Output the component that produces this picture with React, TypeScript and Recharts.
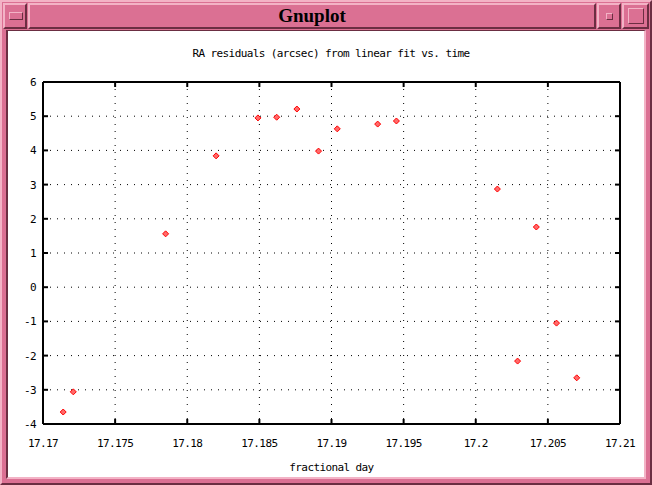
import React from 'react'
import { ScatterChart, Scatter, XAxis, YAxis, CartesianGrid } from 'recharts'

// RA residuals (arcsec)
const days = [
  17.1714, 17.1721, 17.1785, 17.182, 17.1849, 17.1862, 17.1876, 17.1891,
  17.1904, 17.1932, 17.1945, 17.2015, 17.2029, 17.2042, 17.2056, 17.207,
]
const residuals = [
  -3.65, -3.06, 1.56, 3.84, 4.95, 4.97, 5.21, 3.98,
  4.63, 4.77, 4.86, 2.87, -2.16, 1.76, -1.05, -2.65,
]
const xTickLabels = ['17.17', '17.175', '17.18', '17.185', '17.19', '17.195', '17.2', '17.205', '17.21']
const yTicks = [-4, -3, -2, -1, 0, 1, 2, 3, 4, 5, 6]

const xTicks = xTickLabels.map((s) => parseFloat(s))
const points = days.map((d, i) => ({ day: d, res: residuals[i] }))

const font = { fontFamily: '"DejaVu Sans Mono", monospace', fontSize: 11, letterSpacing: -0.6 }

const fmtX = (v: number) => xTickLabels[xTicks.findIndex((t) => Math.abs(t - v) < 1e-9)] ?? String(v)

const BottomTick = (p: any) => (
  <g>
    <line x1={p.x} x2={p.x} y1={p.y} y2={p.y - 5} stroke="#000" strokeWidth={2} />
    <text x={p.x} y={p.y + 23} textAnchor="middle" fill="#000" style={font}>
      {fmtX(p.payload.value)}
    </text>
  </g>
)
const TopTick = (p: any) => (
  <line x1={p.x} x2={p.x} y1={p.y} y2={p.y + 5} stroke="#000" strokeWidth={2} />
)
const LeftTick = (p: any) => (
  <g>
    <line x1={p.x} x2={p.x + 5} y1={p.y} y2={p.y} stroke="#000" strokeWidth={2} />
    <text x={p.x - 7} y={p.y + 4} textAnchor="end" fill="#000" style={font}>
      {p.payload.value}
    </text>
  </g>
)
const RightTick = (p: any) => (
  <line x1={p.x} x2={p.x - 5} y1={p.y} y2={p.y} stroke="#000" strokeWidth={2} />
)

const Diamond = (p: any) => (
  <polygon
    points={`${p.cx},${p.cy - 3} ${p.cx + 3},${p.cy} ${p.cx},${p.cy + 3} ${p.cx - 3},${p.cy}`}
    fill="#ff6a6a"
    stroke="#ff0000"
    strokeWidth={1}
  />
)
const NoShape = () => <g />

const pink = '#db7093'
const light = '#f3b3c6'
const dark = '#6b2e42'

const bevel = (extra: React.CSSProperties): React.CSSProperties => ({
  position: 'absolute',
  background: pink,
  boxSizing: 'border-box',
  borderTop: `2px solid ${light}`,
  borderLeft: `2px solid ${light}`,
  borderBottom: `2px solid ${dark}`,
  borderRight: `2px solid ${dark}`,
  ...extra,
})

export default function App() {
  return (
    <div style={{ position: 'fixed', left: 0, top: 0, width: 652, height: 485, overflow: 'hidden' }}>
      {/* window frame */}
      <div style={bevel({ left: 0, top: 0, width: 652, height: 485 })} />
      <div style={bevel({ left: 3, top: 3, width: 24, height: 26 })}>
        <div style={{ position: 'absolute', left: 4, top: 7, width: 12, height: 6, border: `1px solid ${dark}`, borderTopColor: light, borderLeftColor: light }} />
      </div>
      <div
        style={bevel({
          left: 28, top: 3, width: 568, height: 26,
          textAlign: 'center', fontFamily: '"Liberation Serif", serif', fontWeight: 'bold', fontSize: 19, lineHeight: '22px',
        })}
      >
        Gnuplot
      </div>
      <div style={bevel({ left: 597, top: 3, width: 24, height: 26 })}>
        <div style={{ position: 'absolute', left: 7, top: 8, width: 5, height: 5, border: `1px solid ${dark}`, borderTopColor: light, borderLeftColor: light }} />
      </div>
      <div style={bevel({ left: 622, top: 3, width: 27, height: 26 })}>
        <div style={{ position: 'absolute', left: 4, top: 3, width: 14, height: 14, border: `1px solid ${dark}`, borderTopColor: light, borderLeftColor: light }} />
      </div>
      <div
        style={{
          position: 'absolute', left: 6, top: 30, width: 640, height: 449, background: '#fff',
          boxSizing: 'border-box', borderLeft: `2px solid ${dark}`, borderTop: `1px solid ${dark}`,
          borderRight: `2px solid ${light}`, borderBottom: `2px solid ${light}`,
        }}
      />

      <div
        style={{
          position: 'absolute', left: 0, top: 47, width: 662, textAlign: 'center', color: '#000', ...font,
        }}
      >
        RA residuals (arcsec) from linear fit vs. time
      </div>

      <div style={{ position: 'absolute', left: 0, top: 0 }}>
        <ScatterChart width={652} height={485} margin={{ top: 81, right: 31, bottom: 11, left: 0 }}>
          <CartesianGrid xAxisId="bottom" yAxisId="left" stroke="#000" strokeDasharray="1 6" />
          <XAxis
            xAxisId="bottom"
            dataKey="day"
            type="number"
            domain={[17.17, 17.21]}
            ticks={xTicks}
            interval={0}
            height={50}
            tickSize={0}
            tickMargin={0}
            tick={<BottomTick />}
            axisLine={{ stroke: '#000', strokeWidth: 2 }}
            label={{ value: 'fractional day', position: 'insideBottom', offset: 3, fill: '#000', style: font }}
            allowDataOverflow
          />
          <XAxis
            xAxisId="top"
            orientation="top"
            dataKey="day"
            type="number"
            domain={[17.17, 17.21]}
            ticks={xTicks}
            interval={0}
            height={1}
            tickSize={0}
            tickMargin={0}
            tick={<TopTick />}
            axisLine={{ stroke: '#000', strokeWidth: 2 }}
            allowDataOverflow
          />
          <YAxis
            yAxisId="left"
            dataKey="res"
            type="number"
            domain={[-4, 6]}
            ticks={yTicks}
            interval={0}
            width={43}
            tickSize={0}
            tickMargin={0}
            tick={<LeftTick />}
            axisLine={{ stroke: '#000', strokeWidth: 2 }}
          />
          <YAxis
            yAxisId="right"
            orientation="right"
            dataKey="res"
            type="number"
            domain={[-4, 6]}
            ticks={yTicks}
            interval={0}
            width={1}
            tickSize={0}
            tickMargin={0}
            tick={<RightTick />}
            axisLine={{ stroke: '#000', strokeWidth: 2 }}
          />
          <Scatter
            xAxisId="top"
            yAxisId="right"
            data={points}
            shape={<NoShape />}
            isAnimationActive={false}
          />
          <Scatter
            xAxisId="bottom"
            yAxisId="left"
            data={points}
            shape={<Diamond />}
            isAnimationActive={false}
          />
        </ScatterChart>
      </div>
    </div>
  )
}
